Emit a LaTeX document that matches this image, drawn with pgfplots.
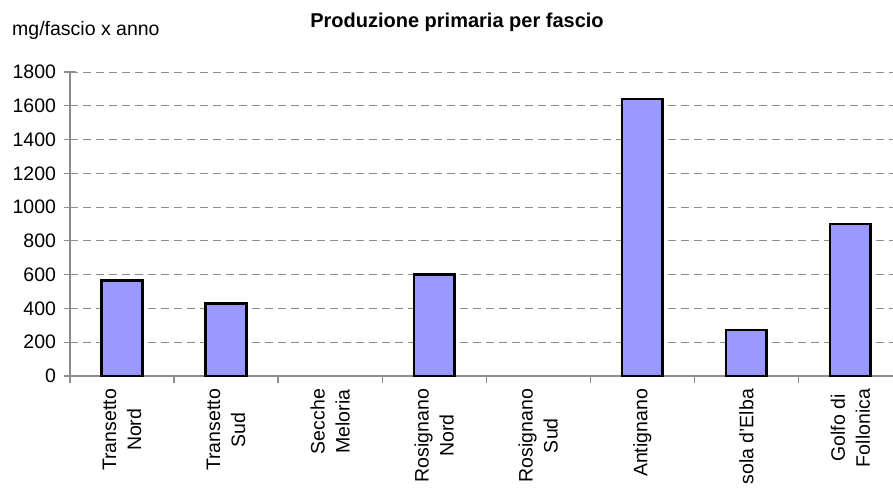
\documentclass[border=0pt]{standalone}
\usepackage{fontspec}
\setmainfont{Liberation Sans}
\usepackage{pgfplots}
\pgfplotsset{compat=1.18}
\definecolor{barblue}{HTML}{9999FF}
\definecolor{axgray}{HTML}{8C8C8C}
\begin{document}
\begin{tikzpicture}[x=1pt,y=1pt]
\path[use as bounding box] (0,0) rectangle (893,488);
\begin{axis}[
  at={(70pt,112pt)}, anchor=south west,
  width=823pt, height=304pt, scale only axis,
  xmin=-0.5, xmax=7.41, ymin=0, ymax=1800,
  axis x line*=bottom, axis y line*=left,
  axis line style={axgray, line width=1.2pt},
  /pgf/number format/assume math mode=true,
  /pgf/number format/set thousands separator={},
  ytick={0,200,...,1800},
  yticklabel style={font=\fontsize{19.5}{23}\selectfont, black},
  yticklabel shift=4.5pt,
  ymajorgrids,
  major grid style={axgray, line width=0.9pt, dash pattern=on 8pt off 5pt},
  tick align=center,
  major tick length=12pt,
  tick style={axgray, line width=1.2pt},
  xtick={0,...,7},
  xtick style={draw=none},
  xticklabels={{Transetto\\Nord},{Transetto\\Sud},{Secche\\Meloria},{Rosignano\\Nord},{Rosignano\\Sud},{Antignano},{sola d'Elba},{Golfo di\\Follonica}},
  xticklabel style={rotate=90, anchor=east, align=center, font=\fontsize{19.5}{25}\selectfont, black},
  xticklabel shift=3.5pt,
  extra x ticks={-0.5,0.5,1.5,2.5,3.5,4.5,5.5,6.5},
  extra x tick labels={},
  extra x tick style={tick align=outside, major tick length=7pt, xtick style={draw=axgray, line width=1.2pt}, grid=none},
  clip=false,
]
\addplot[ybar, bar shift=0pt, bar width=0.39, fill=barblue, draw=black, line width=2.6pt, line join=miter]
  coordinates {(0,565) (1,430) (3,602) (5,1640) (6,272) (7,900)};
\end{axis}
\node[font=\bfseries\fontsize{20}{24}\selectfont] at (457,466) {Produzione primaria per fascio};
\node[anchor=west, font=\fontsize{19.5}{24}\selectfont, inner sep=0pt] at (12,458) {mg/fascio x anno};
\end{tikzpicture}
\end{document}
